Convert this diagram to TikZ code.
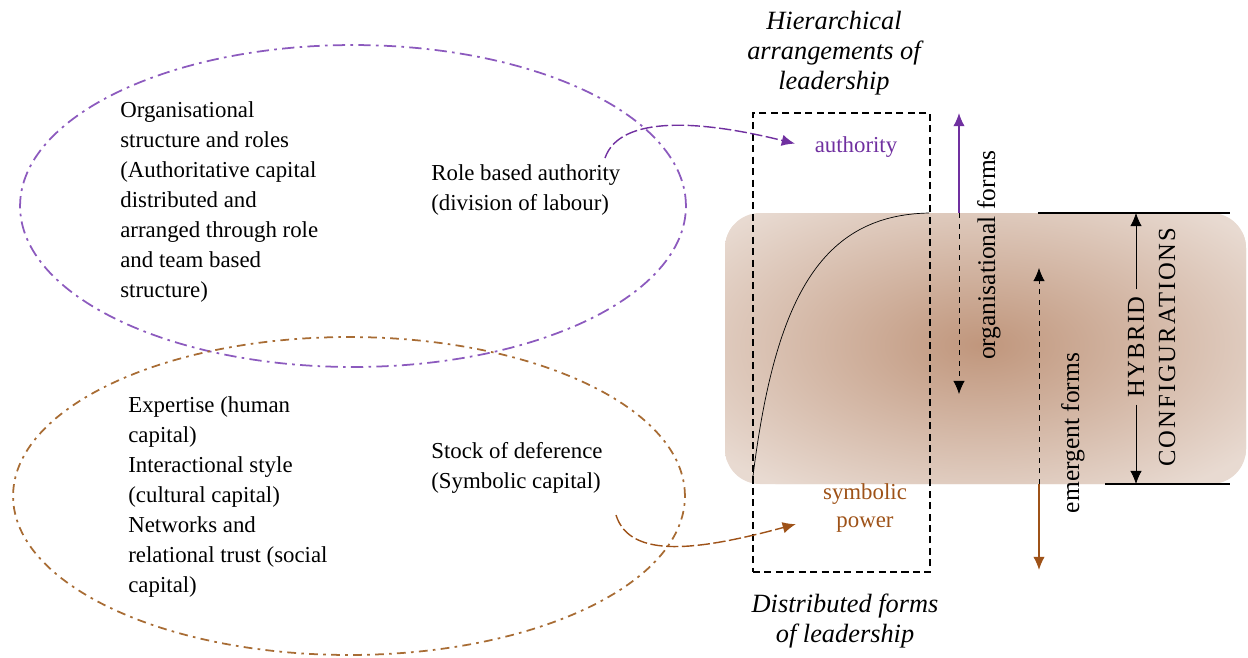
\documentclass[tikz,border=0pt]{standalone}
\usepackage{fontspec}
\setmainfont{Liberation Serif}
\usetikzlibrary{arrows.meta}
\usetikzlibrary{shapes,arrows}

\definecolor{purp}{RGB}{112,48,160}
\definecolor{purpline}{RGB}{140,90,190}
\definecolor{brwn}{RGB}{158,82,24}
\definecolor{brwnline}{RGB}{168,108,52}
\definecolor{bandedge}{RGB}{232,218,209}
\definecolor{bandmid}{RGB}{192,150,124}

\begin{document}
\begin{tikzpicture}[x=0.02cm,y=-0.02cm,>={Latex[length=7.5pt,width=6.5pt]}]
	\def \bandtop{213}
	\def \bandbot{484}
	\def \orgx{959}
	\def \emgx{1039}
	\def \hybx{1136}
	\tikzstyle{t-node}=[inner sep=0pt,align=left,anchor=north west,font=\fontsize{13}{17.07}\selectfont]
	\tikzstyle{h-node}=[inner sep=0pt,align=center,font=\fontsize{15}{17}\selectfont\itshape]
	\tikzstyle{c-node}=[align=center,font=\fontsize{13}{15.5}\selectfont]
	\tikzstyle{v-node}=[rotate=90,inner sep=3pt,font=\fontsize{14.5}{16}\selectfont]
	\tikzstyle{p-ell}=[ellipse,draw=purpline,line width=1pt,dash pattern=on 7pt off 3pt on 1.5pt off 3pt]
	\tikzstyle{b-ell}=[ellipse,draw=brwnline,line width=1pt,dash pattern=on 5pt off 3pt on 1.5pt off 3pt]
	\useasboundingbox (0,0) rectangle (1248,657);

	% hybrid band
	\fill[bandedge,rounded corners=0.7cm] (725,\bandtop) rectangle (1246,\bandbot);
	\begin{scope}
		\clip[rounded corners=0.7cm] (725,\bandtop) rectangle (1246,\bandbot);
		\shade[inner color=bandmid,outer color=bandedge] (982,345) ellipse (340 and 175);
	\end{scope}

	% ellipses
	\node[p-ell,minimum width=13.32cm,minimum height=6.44cm] (org-ell) at (353,206) {};
	\node[b-ell,minimum width=13.44cm,minimum height=6.36cm] (cap-ell) at (349,496) {};

	% texts in ellipses
	\node[t-node] (org-txt) at (120,101) {Organisational\\structure and roles\\(Authoritative capital\\distributed and\\arranged through role\\and team based\\structure)};
	\node[t-node] (role) at (431,164) {Role based authority\\(division of labour)};
	\node[t-node] (cap-txt) at (128,396) {Expertise (human\\capital)\\Interactional style\\(cultural capital)\\Networks and\\relational trust (social\\capital)};
	\node[t-node] (stock) at (431,442) {Stock of deference\\(Symbolic capital)};

	% leadership box
	\node[draw,line width=1pt,dash pattern=on 4pt off 2.5pt,minimum width=3.54cm,minimum height=9.18cm] (lead-box) at (841.5,342.5) {};
	\node[h-node] (hier) at (834,53) {Hierarchical\\arrangements of\\leadership};
	\node[h-node] (distr) at (845,621) {Distributed forms\\of leadership};
	\node[c-node,text=purp] (auth) at (856,147) {authority};
	\node[c-node,text=brwn] (sym) at (865,508) {symbolic\\power};

	% curve
	\draw[thin] (753,476) .. controls (775,300) and (820,215) .. (929,213);

	% connectors
	\coordinate (role-tail) at (605,158);
	\coordinate (stock-tail) at (616,515);
	\draw[->,purp,thick,dash pattern=on 7pt off 2pt,shorten >=8pt] (role-tail) .. controls (620,115) and (700,120) .. (auth.west);
	\draw[->,brwn,thick,dash pattern=on 7pt off 2pt] (stock-tail) .. controls (630,560) and (700,550) .. ([xshift=-12pt,yshift=8pt]sym.south west);

	% organisational forms
	\coordinate (org-mid) at (\orgx,\bandtop);
	\coordinate (org-top) at (\orgx,113);
	\coordinate (org-bot) at (\orgx,394);
	\draw[->,purp,thick] (org-mid) -- (org-top);
	\draw[->,dashed] (org-mid) -- (org-bot);
	\node[v-node] (org-lbl) at (989,255) {organisational forms};

	% emergent forms
	\coordinate (emg-mid) at (\emgx,\bandbot);
	\coordinate (emg-top) at (\emgx,268);
	\coordinate (emg-bot) at (\emgx,570);
	\draw[->,dashed] (emg-mid) -- (emg-top);
	\draw[->,brwn,thick] (emg-mid) -- (emg-bot);
	\node[v-node] (emg-lbl) at (1073,433) {emergent forms};

	% hybrid configurations
	\coordinate (hyb-top) at (\hybx,\bandtop);
	\coordinate (hyb-bot) at (\hybx,\bandbot);
	\draw[thick] (1038,\bandtop) -- (1230,\bandtop);
	\draw[thick] (1105,\bandbot) -- (1230,\bandbot);
	\node[v-node,inner sep=4pt,font=\fontsize{14}{16}\selectfont\addfontfeature{LetterSpace=5}] (hyb) at (\hybx,347) {HYBRID};
	\node[v-node,font=\fontsize{14}{16}\selectfont\addfontfeature{LetterSpace=8}] (conf) at (1167,347) {CONFIGURATIONS};
	\draw[->] (hyb.east) -- (hyb-top);
	\draw[->] (hyb.west) -- (hyb-bot);
\end{tikzpicture}
\end{document}
